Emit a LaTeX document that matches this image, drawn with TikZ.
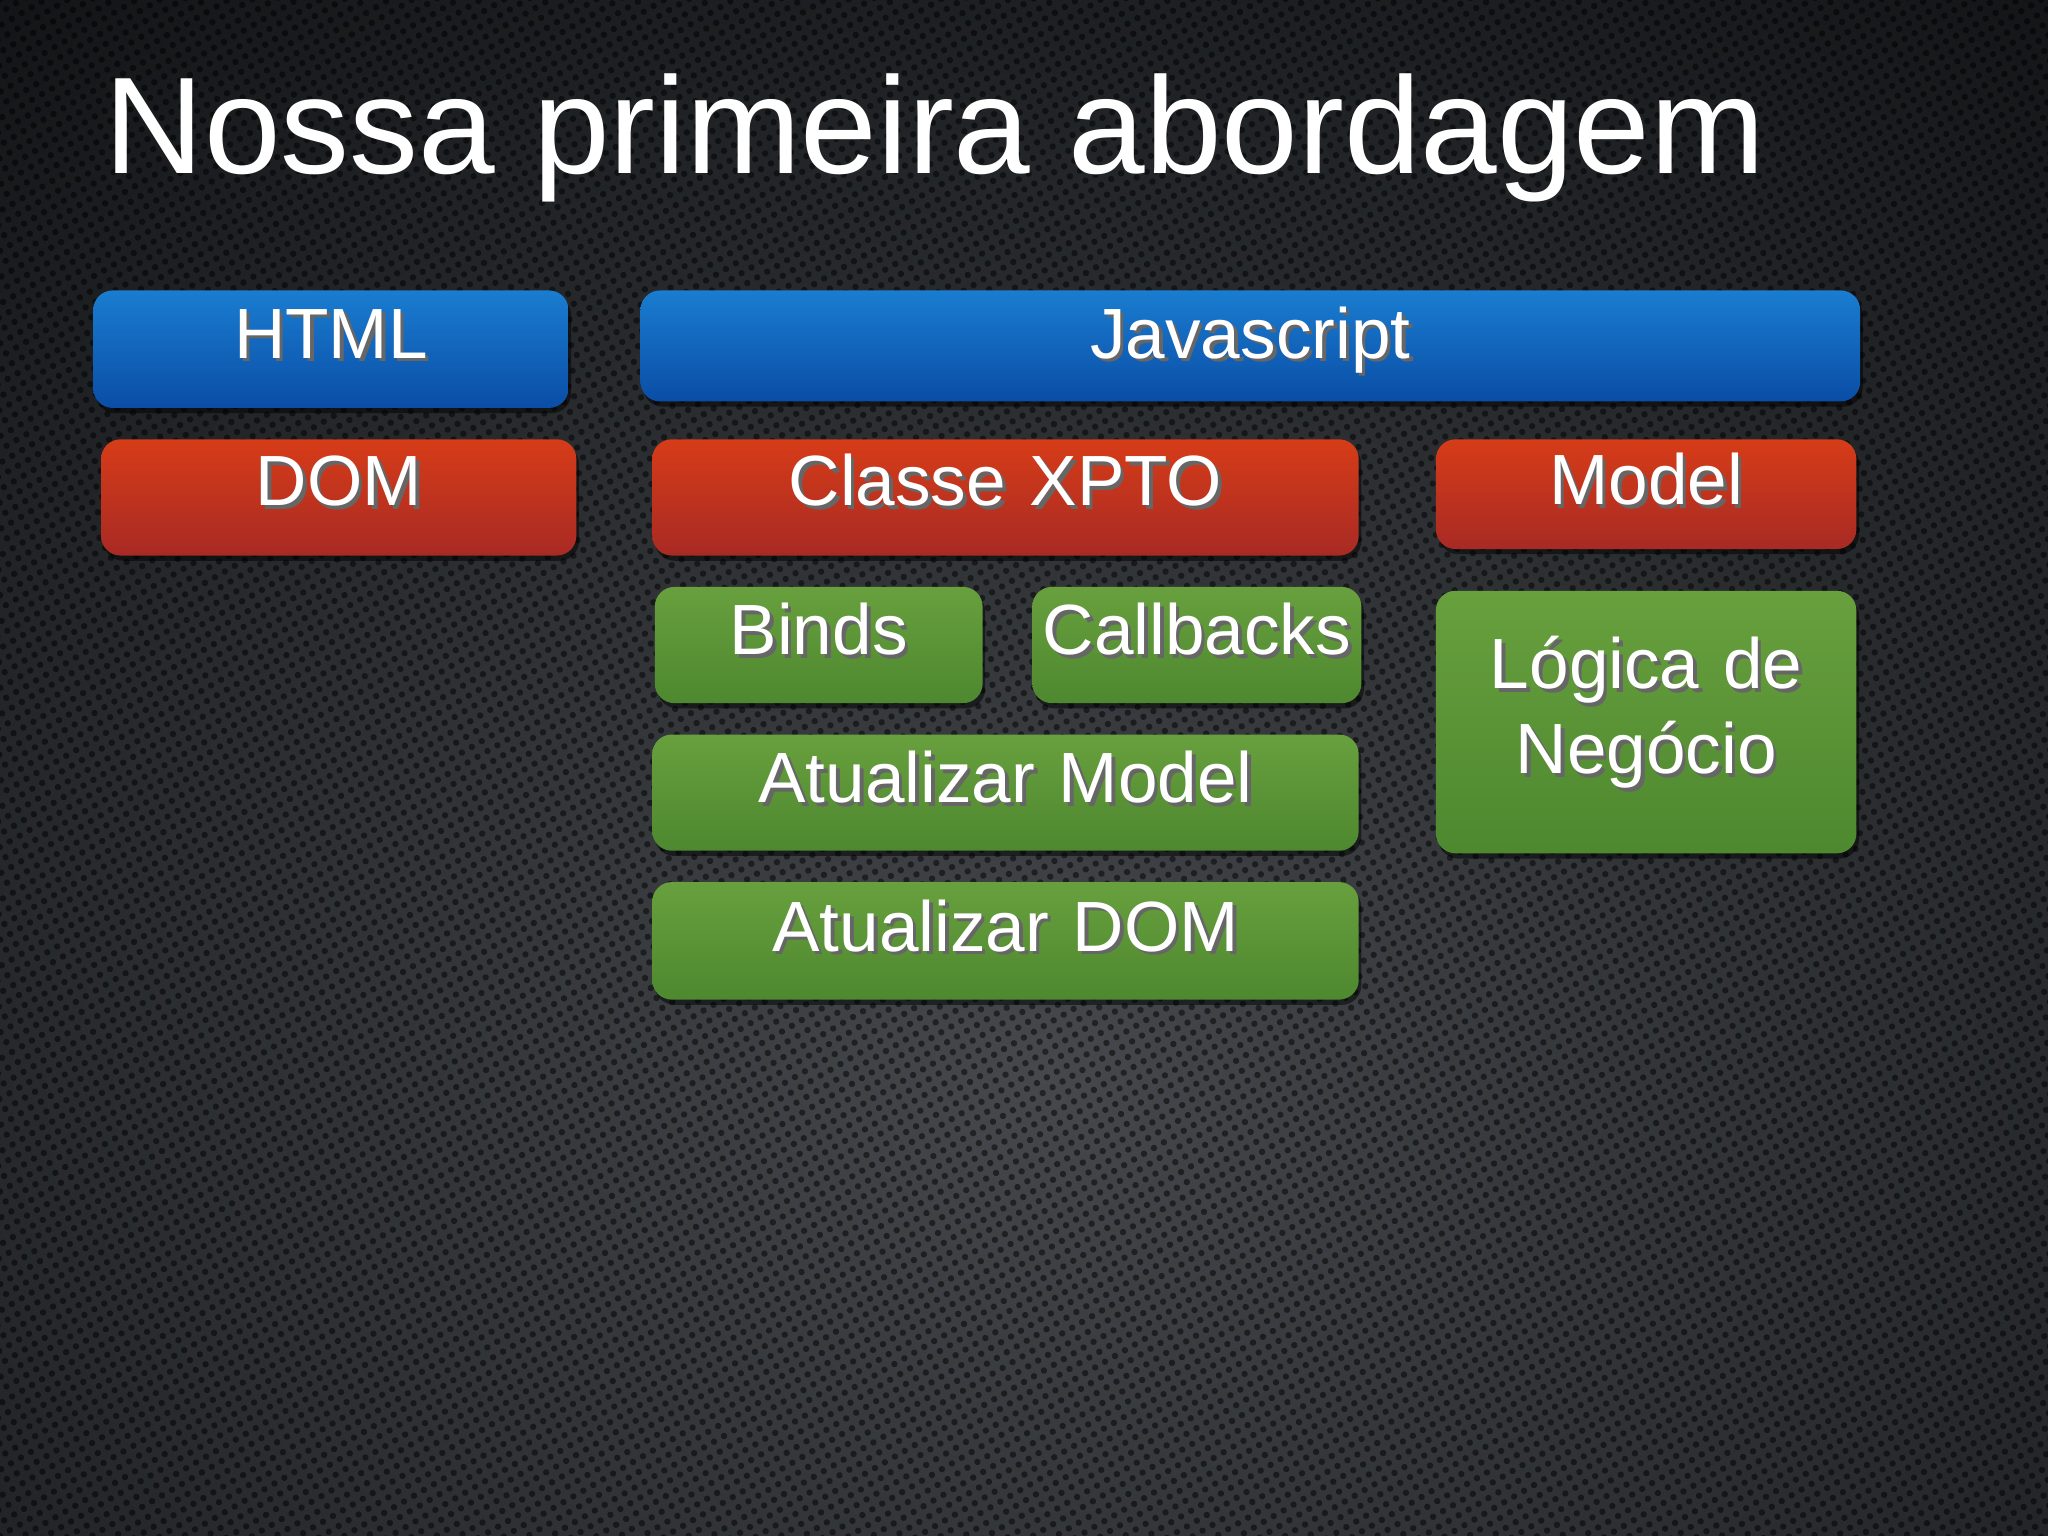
\documentclass[tikz,border=0pt]{standalone}
\usepackage{fontspec}
\setmainfont{Liberation Sans}
\usetikzlibrary{shadows,patterns.meta}

\definecolor{fundo}{HTML}{0F1113}
\definecolor{fundoclaro}{HTML}{45484C}
\definecolor{azulcima}{HTML}{1A7DD0}
\definecolor{azulbaixo}{HTML}{0A4DA6}
\definecolor{vermcima}{HTML}{D63C18}
\definecolor{vermbaixo}{HTML}{A82A24}
\definecolor{verdecima}{HTML}{68A03E}
\definecolor{verdebaixo}{HTML}{4E882F}

% texto branco com sombra escura
\newcommand\sombra[1]{\leavevmode\rlap{\kern1.6pt\raisebox{-1.6pt}{\color{black!60}#1}}#1}

\begin{document}
\begin{tikzpicture}[x=0.02cm, y=-0.02cm,
    caixa/.style={rounded corners=0.3cm, inner sep=0pt, anchor=north west, align=center,
        text=white, font=\fontsize{31}{36.9}\selectfont,
        drop shadow={shadow xshift=0.4mm, shadow yshift=-0.8mm, opacity=0.5, fill=black}},
    azul/.style={caixa, top color=azulcima, bottom color=azulbaixo},
    vermelho/.style={caixa, top color=vermcima, bottom color=vermbaixo},
    verde/.style={caixa, top color=verdecima, bottom color=verdebaixo},
    titulo/.style={anchor=base west, inner sep=0pt, text=white, font=\fontsize{60}{72}\selectfont}]

            % fundo
            \fill[fundo] (0,0) rectangle (1568,1176);
            \begin{scope}
                \clip (0,0) rectangle (1568,1176);
                \shade[inner color=fundoclaro, outer color=fundo] (800,820) ellipse (28cm and 22cm);
            \end{scope}
            \fill[pattern={Dots[radius=1.4pt, distance=5pt, angle=30]}, pattern color=black, opacity=0.5] (0,0) rectangle (1568,1176);

            \node[titulo] (titulo) at (80,133) {Nossa primeira abordagem};

            \node[azul, text width=7.28cm, text height=1.04cm, text depth=0.76cm] (html) at (71,222) {\sombra{HTML}};
            \node[azul, text width=18.68cm, text height=1.04cm, text depth=0.66cm] (js) at (490,222) {\sombra{Javascript}};

            \node[vermelho, text width=7.28cm, text height=1.02cm, text depth=0.76cm] (dom) at (77,336) {\sombra{DOM}};
            \node[vermelho, text width=10.82cm, text height=1.02cm, text depth=0.76cm] (classe) at (499,336) {\sombra{Classe XPTO}};
            \node[vermelho, text width=6.44cm, text height=1.0cm, text depth=0.68cm] (model) at (1099,336) {\sombra{Model}};

            \node[verde, text width=5.02cm, text height=1.04cm, text depth=0.74cm] (binds) at (501,449) {\sombra{Binds}};
            \node[verde, text width=5.04cm, text height=1.04cm, text depth=0.74cm] (callbacks) at (790,449) {\sombra{Callbacks}};
            \node[verde, text width=10.82cm, text height=1.04cm, text depth=0.74cm] (atmodel) at (499,562) {\sombra{Atualizar Model}};
            \node[verde, text width=10.82cm, text height=1.06cm, text depth=0.74cm] (atdom) at (499,675) {\sombra{Atualizar DOM}};
            \node[verde, text width=6.44cm, text height=1.5cm, text depth=2.52cm] (logica) at (1099,452) {\sombra{Lógica de}\\\sombra{Negócio}};
        \end{tikzpicture}
\end{document}
